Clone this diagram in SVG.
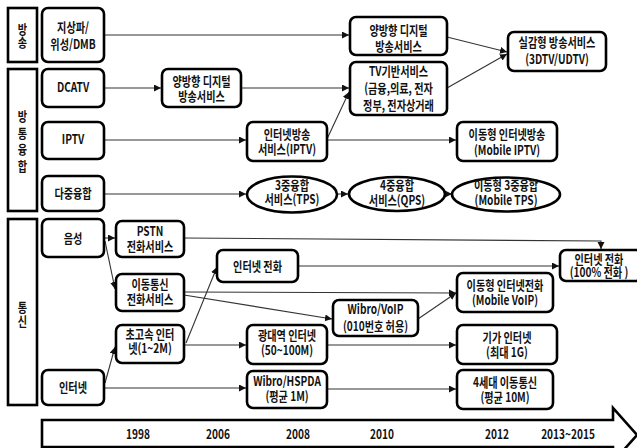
<svg xmlns="http://www.w3.org/2000/svg" width="637" height="448" viewBox="0 0 637 448">
<style>
  .bg { fill: #ffffff; }
  .cat { fill: #ffffff; stroke: #000; stroke-width: 2.6; }
  .box { fill: #ffffff; stroke: #000; stroke-width: 2.6; }
  .line { fill: none; stroke: #333; stroke-width: 1.1; }
  .arr { marker-end: url(#head); }
  text { font-family: "Noto Sans CJK KR", "Noto Sans", sans-serif; font-size: 13px; font-weight: bold; fill: #111; text-anchor: middle;
         transform-box: fill-box; transform-origin: center; transform: scaleX(0.78); }
</style>
<defs>
  <marker id="head" markerUnits="userSpaceOnUse" markerWidth="8" markerHeight="8" refX="7" refY="3.5" orient="auto">
    <path d="M0,0 L7,3.5 L0,7 z" fill="#111"/>
  </marker>
</defs>
<rect class="bg" x="0" y="0" width="637" height="448"/>

<!-- connectors -->
<g id="connectors">
  <path class="line arr" d="M104,35 H349"/>
  <path class="line arr" d="M104,88 H161"/>
  <path class="line arr" d="M241,88 H349"/>
  <path class="line arr" d="M327,139 L349,92"/>
  <path class="line arr" d="M104,140 H246"/>
  <path class="line arr" d="M327,140 H456"/>
  <path class="line arr" d="M447,37 L507,52"/>
  <path class="line arr" d="M447,88 L507,54"/>
  <path class="line arr" d="M104,194 H246"/>
  <path class="line arr" d="M337,194 H348"/>
  <path class="line arr" d="M445,194 H452"/>
  <path class="line arr" d="M104,238 H115"/>
  <path class="line arr" d="M105,241 L115,289"/>
  <path class="line arr" d="M184,238 L601,241 V249"/>
  <path class="line arr" d="M298,266 H559"/>
  <path class="line arr" d="M184,292 L456,293"/>
  <path class="line arr" d="M184,295 L332,319"/>
  <path class="line arr" d="M418,319 L456,293"/>
  <path class="line arr" d="M185,345 H246"/>
  <path class="line arr" d="M186,343 L217,267"/>
  <path class="line arr" d="M105,383 L115,347"/>
  <path class="line arr" d="M104,388 H246"/>
  <path class="line arr" d="M327,345 H456"/>
  <path class="line arr" d="M327,389 H456"/>
</g>

<!-- category labels -->
<g id="cat-broadcast">
  <rect class="cat" x="8" y="8" width="29" height="54"/>
  <text><tspan x="22.5" y="34.5">방</tspan><tspan x="22.5" y="47.5">송</tspan></text>
</g>
<g id="cat-convergence">
  <rect class="cat" x="8" y="69" width="29" height="142"/>
  <text><tspan x="22.5" y="121.5">방</tspan><tspan x="22.5" y="138">통</tspan><tspan x="22.5" y="154.5">융</tspan><tspan x="22.5" y="171">합</tspan></text>
</g>
<g id="cat-telecom">
  <rect class="cat" x="8" y="219" width="29" height="186"/>
  <text><tspan x="22.5" y="312.5">통</tspan><tspan x="22.5" y="326.5">신</tspan></text>
</g>

<!-- source column -->
<g id="n-terrestrial">
  <rect class="box" x="42" y="8" width="62" height="54" rx="6"/>
  <text><tspan x="73" y="32.5">지상파/</tspan><tspan x="73" y="49.5">위성/DMB</tspan></text>
</g>
<g id="n-dcatv">
  <rect class="box" x="42" y="69" width="62" height="38" rx="6"/>
  <text x="73" y="92.5">DCATV</text>
</g>
<g id="n-iptv">
  <rect class="box" x="42" y="122" width="62" height="37" rx="6"/>
  <text x="73" y="144.5">IPTV</text>
</g>
<g id="n-multi">
  <rect class="box" x="42" y="176" width="62" height="35" rx="6"/>
  <text x="73" y="198.5">다중융합</text>
</g>
<g id="n-voice">
  <rect class="box" x="42" y="219" width="62" height="38" rx="6"/>
  <text x="73" y="243.5">음성</text>
</g>
<g id="n-internet">
  <rect class="box" x="42" y="370" width="62" height="35" rx="6"/>
  <text x="73" y="392.5">인터넷</text>
</g>

<!-- 1998 -->
<g id="n-pstn">
  <rect class="box" x="116" y="221" width="68" height="36" rx="6"/>
  <text><tspan x="150" y="236.5">PSTN</tspan><tspan x="150" y="251.5">전화서비스</tspan></text>
</g>
<g id="n-mobile-phone">
  <rect class="box" x="116" y="274" width="68" height="37" rx="6"/>
  <text><tspan x="150" y="289.5">이동통신</tspan><tspan x="150" y="304.5">전화서비스</tspan></text>
</g>
<g id="n-highspeed">
  <rect class="box" x="116" y="325" width="68" height="38" rx="6"/>
  <text><tspan x="150" y="339.5">초고속 인터</tspan><tspan x="150" y="353.5">넷(1~2M)</tspan></text>
</g>
<g id="n-digital-1">
  <rect class="box" x="162" y="69" width="79" height="38" rx="6"/>
  <text><tspan x="201.5" y="86.5">양방향 디지털</tspan><tspan x="201.5" y="101.5">방송서비스</tspan></text>
</g>

<!-- 2006 / 2008 -->
<g id="n-voip">
  <rect class="box" x="217" y="250" width="81" height="32" rx="6"/>
  <text x="257.5" y="271">인터넷 전화</text>
</g>
<g id="n-iptv-service">
  <rect class="box" x="247" y="122" width="80" height="39" rx="6"/>
  <text><tspan x="287" y="139.5">인터넷방송</tspan><tspan x="287" y="154.5">서비스(IPTV)</tspan></text>
</g>
<g id="n-tps">
  <ellipse class="box" cx="292" cy="194.5" rx="45" ry="18"/>
  <text><tspan x="292" y="190.5">3중융합</tspan><tspan x="292" y="204.5">서비스(TPS)</tspan></text>
</g>
<g id="n-broadband">
  <rect class="box" x="247" y="325" width="80" height="39" rx="6"/>
  <text><tspan x="287" y="340">광대역 인터넷</tspan><tspan x="287" y="355.5">(50~100M)</tspan></text>
</g>
<g id="n-wibro-hspda">
  <rect class="box" x="247" y="371" width="80" height="37" rx="6"/>
  <text><tspan x="287" y="386.5">Wibro/HSPDA</tspan><tspan x="287" y="401.5">(평균 1M)</tspan></text>
</g>

<!-- 2010 -->
<g id="n-digital-2">
  <rect class="box" x="350" y="17" width="97" height="38" rx="6"/>
  <text><tspan x="398.5" y="35.5">양방향 디지털</tspan><tspan x="398.5" y="51">방송서비스</tspan></text>
</g>
<g id="n-tv-service">
  <rect class="box" x="350" y="62" width="97" height="53" rx="6"/>
  <text><tspan x="398.5" y="76.5">TV기반서비스</tspan><tspan x="398.5" y="93.5">(금융,의료, 전자</tspan><tspan x="398.5" y="110">정부, 전자상거래</tspan></text>
</g>
<g id="n-qps">
  <ellipse class="box" cx="397" cy="194" rx="48" ry="17"/>
  <text><tspan x="397" y="190.5">4중융합</tspan><tspan x="397" y="205">서비스(QPS)</tspan></text>
</g>
<g id="n-wibro-voip">
  <rect class="box" x="333" y="300" width="85" height="36" rx="6"/>
  <text><tspan x="375.5" y="314.5">Wibro/VoIP</tspan><tspan x="375.5" y="331">(010번호 허용)</tspan></text>
</g>

<!-- 2012 -->
<g id="n-mobile-iptv">
  <rect class="box" x="457" y="122" width="100" height="39" rx="6"/>
  <text><tspan x="507" y="139.5">이동형 인터넷방송</tspan><tspan x="507" y="155">(Mobile IPTV)</tspan></text>
</g>
<g id="n-mobile-tps">
  <ellipse class="box" cx="506" cy="194.5" rx="54" ry="17"/>
  <text><tspan x="506" y="190.5">이동형 3중융합</tspan><tspan x="506" y="205">(Mobile TPS)</tspan></text>
</g>
<g id="n-mobile-voip">
  <rect class="box" x="457" y="273" width="96" height="39" rx="6"/>
  <text><tspan x="505" y="290">이동형 인터넷전화</tspan><tspan x="505" y="305">(Mobile VoIP)</tspan></text>
</g>
<g id="n-giga">
  <rect class="box" x="457" y="325" width="100" height="39" rx="6"/>
  <text><tspan x="507" y="342">기가 인터넷</tspan><tspan x="507" y="357">(최대 1G)</tspan></text>
</g>
<g id="n-4g">
  <rect class="box" x="457" y="370" width="96" height="39" rx="6"/>
  <text><tspan x="505" y="387">4세대 이동통신</tspan><tspan x="505" y="402.5">(평균 10M)</tspan></text>
</g>

<!-- 2013~2015 -->
<g id="n-realistic">
  <rect class="box" x="508" y="32" width="98" height="39" rx="6"/>
  <text><tspan x="557" y="47.5">실감형 방송서비스</tspan><tspan x="557" y="64">(3DTV/UDTV)</tspan></text>
</g>
<g id="n-voip-full">
  <rect class="box" x="560" y="250" width="82" height="31" rx="6"/>
  <text><tspan x="599" y="264.5">인터넷 전화</tspan><tspan x="599" y="277.5">(100% 전화 )</tspan></text>
</g>

<!-- timeline -->
<g id="timeline">
  <polygon points="42,420 613,420 613,408 637,435 613,462 613,447 42,447" fill="#fff" stroke="#000" stroke-width="2.6" stroke-linejoin="miter"/>
  <text x="138" y="439.5">1998</text>
  <text x="218" y="439.5">2006</text>
  <text x="298" y="439.5">2008</text>
  <text x="382" y="439.5">2010</text>
  <text x="497" y="439.5">2012</text>
  <text x="568" y="439.5">2013~2015</text>
</g>
</svg>
